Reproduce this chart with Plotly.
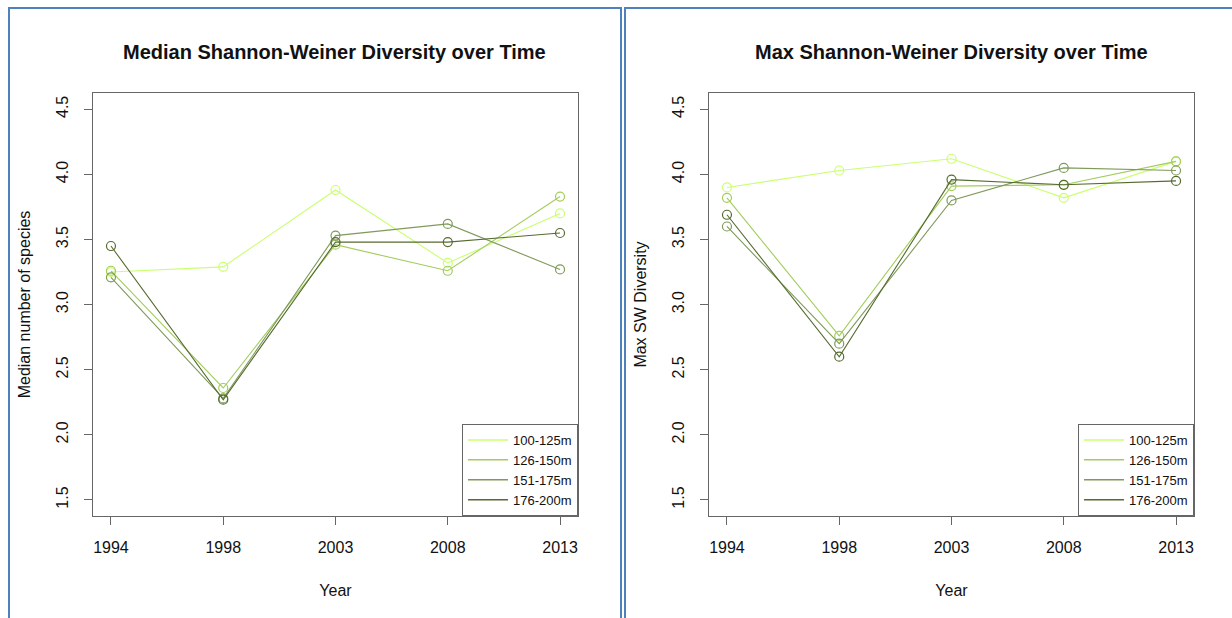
import plotly.graph_objects as go

years = ["1994", "1998", "2003", "2008", "2013"]
groups = ["100-125m", "126-150m", "151-175m", "176-200m"]
colors = ["#CAFF70", "#A2CD5A", "#7F9A5A", "#556B2F"]

median_sw = {
    "100-125m": [3.25, 3.29, 3.88, 3.32, 3.70],
    "126-150m": [3.26, 2.36, 3.46, 3.26, 3.83],
    "151-175m": [3.21, 2.28, 3.53, 3.62, 3.27],
    "176-200m": [3.45, 2.27, 3.48, 3.48, 3.55],
}
max_sw = {
    "100-125m": [3.90, 4.03, 4.12, 3.82, 4.10],
    "126-150m": [3.82, 2.76, 3.91, 3.92, 4.10],
    "151-175m": [3.60, 2.70, 3.80, 4.05, 4.03],
    "176-200m": [3.69, 2.60, 3.96, 3.92, 3.95],
}

W, H = 1232, 618
FONT = "Liberation Sans, Arial, sans-serif"

fig = go.Figure()

for panel, data in ((1, median_sw), (2, max_sw)):
    xa = "x" if panel == 1 else "x2"
    ya = "y" if panel == 1 else "y2"
    lg = "legend" if panel == 1 else "legend2"
    for g, c in zip(groups, colors):
        fig.add_trace(go.Scatter(
            x=years, y=data[g], mode="lines+markers", xaxis=xa, yaxis=ya,
            line=dict(color=c, width=1.1),
            marker=dict(symbol="circle-open", size=9, color=c, line=dict(width=1.2, color=c)),
            showlegend=False, hoverinfo="y",
        ))
    for g, c in zip(groups, colors):
        fig.add_trace(go.Scatter(
            x=[None], y=[None], mode="lines", xaxis=xa, yaxis=ya, name=g,
            line=dict(color=c, width=1.5), legend=lg, showlegend=True,
        ))

def px_x(p):
    return p / W

def px_y(p):
    return 1 - p / H

axis_common = dict(
    showline=True, mirror=True, linecolor="#666666", linewidth=1,
    ticks="outside", ticklen=8, tickcolor="#666666", tickwidth=1,
    showgrid=False, zeroline=False, automargin=False,
    tickfont=dict(family=FONT, size=16, color="#111111"),
    title_font=dict(family=FONT, size=16, color="#111111"),
)

xrange = [-0.16, 4.16]
yrange = [1.377, 4.625]

legend_common = dict(
    yanchor="bottom", xanchor="right",
    bordercolor="#666666", borderwidth=1, bgcolor="white",
    font=dict(family=FONT, size=13, color="#111111"),
    tracegroupgap=0, itemwidth=40,
)

fig.update_layout(
    width=W, height=H, margin=dict(l=0, r=0, t=0, b=0),
    paper_bgcolor="white", plot_bgcolor="white",
    font=dict(family=FONT, size=14, color="#111111"),
    xaxis=dict(domain=[px_x(93), px_x(578)], anchor="y", type="category",
               range=xrange, title=dict(text="Year", standoff=29),
               ticklabelstandoff=9, **axis_common),
    yaxis=dict(domain=[px_y(516), px_y(93)], anchor="x", range=yrange,
               tickmode="linear", tick0=1.5, dtick=0.5, tickformat=".1f",
               tickangle=-90, ticklabelstandoff=10,
               title=dict(text="Median number of species", standoff=18),
               **axis_common),
    xaxis2=dict(domain=[px_x(709), px_x(1194)], anchor="y2", type="category",
                range=xrange, title=dict(text="Year", standoff=29),
                ticklabelstandoff=9, **axis_common),
    yaxis2=dict(domain=[px_y(516), px_y(93)], anchor="x2", range=yrange,
                tickmode="linear", tick0=1.5, dtick=0.5, tickformat=".1f",
                tickangle=-90, ticklabelstandoff=10,
                title=dict(text="Max SW Diversity", standoff=18),
                **axis_common),
    legend=dict(x=px_x(578), y=px_y(516), **legend_common),
    legend2=dict(x=px_x(1194), y=px_y(516), **legend_common),
    annotations=[
        dict(text="<b>Median Shannon-Weiner Diversity over Time</b>", x=px_x(335), y=px_y(52),
             xref="paper", yref="paper", xanchor="center", yanchor="middle", showarrow=False,
             font=dict(family=FONT, size=20, color="#111111")),
        dict(text="<b>Max Shannon-Weiner Diversity over Time</b>", x=px_x(951), y=px_y(52),
             xref="paper", yref="paper", xanchor="center", yanchor="middle", showarrow=False,
             font=dict(family=FONT, size=20, color="#111111")),
    ],
    shapes=[
        dict(type="path", xref="paper", yref="paper",
             path=f"M {px_x(9)},{px_y(640)} L {px_x(9)},{px_y(8)} L {px_x(621)},{px_y(8)} L {px_x(621)},{px_y(640)}",
             line=dict(color="#4F81BD", width=2)),
        dict(type="path", xref="paper", yref="paper",
             path=f"M {px_x(625)},{px_y(640)} L {px_x(625)},{px_y(8)} L {px_x(1240)},{px_y(8)}",
             line=dict(color="#4F81BD", width=2)),
    ],
)

fig.write_html("out.html")
